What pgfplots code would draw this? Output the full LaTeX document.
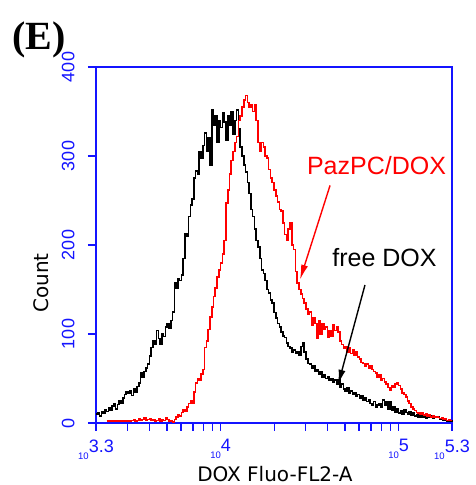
\documentclass[border=0pt]{standalone}
\usepackage{fontspec}
\usepackage{pgfplots}
\pgfplotsset{compat=1.18}
\usetikzlibrary{arrows.meta}
\setmainfont{Liberation Sans}
\newfontfamily\serifE{Liberation Serif}
\newfontfamily\dejavu{DejaVu Sans}
\definecolor{axblue}{RGB}{20,20,255}
\newcommand{\lt}[1]{{\fontsize{9.5}{9.5}\selectfont\raisebox{-7pt}{10}}#1}
\pgfplotstableread{
x y
3.30 10
3.31 12
3.32 8
3.33 13
3.34 11
3.35 15
3.36 13
3.37 17
3.38 14
3.39 19
3.40 22
3.41 16
3.42 21
3.43 25
3.44 22
3.45 28
3.46 32
3.47 35
3.48 33
3.49 36
3.50 31
3.51 38
3.52 35
3.53 41
3.54 45
3.55 56
3.56 52
3.57 58
3.58 62
3.59 66
3.60 75
3.61 85
3.62 92
3.63 88
3.64 104
3.65 95
3.66 88
3.67 100
3.68 97
3.69 108
3.70 112
3.71 106
3.72 115
3.73 125
3.74 157
3.75 152
3.76 162
3.77 160
3.78 166
3.79 185
3.80 213
3.81 210
3.82 232
3.83 245
3.84 252
3.85 275
3.86 283
3.87 280
3.88 305
3.89 298
3.90 312
3.91 326
3.92 305
3.93 320
3.94 290
3.95 352
3.96 335
3.97 345
3.98 315
3.99 340
4.00 332
4.01 348
4.02 338
4.03 318
4.04 345
4.05 335
4.06 350
4.07 325
4.08 340
4.09 352
4.10 330
4.11 310
4.12 300
4.13 290
4.14 282
4.15 270
4.16 258
4.17 240
4.18 232
4.19 218
4.20 205
4.21 198
4.22 185
4.23 172
4.24 168
4.25 160
4.26 150
4.27 146
4.28 138
4.29 135
4.30 124
4.31 118
4.32 112
4.33 108
4.34 102
4.35 98
4.36 96
4.37 90
4.38 86
4.39 84
4.40 80
4.41 82
4.42 78
4.43 80
4.44 76
4.45 86
4.46 90
4.47 80
4.48 72
4.49 67
4.50 66
4.51 62
4.52 64
4.53 58
4.54 60
4.55 55
4.56 57
4.57 52
4.58 54
4.59 50
4.60 52
4.61 48
4.62 50
4.63 46
4.64 48
4.65 44
4.66 48
4.67 40
4.68 44
4.69 38
4.70 36
4.71 40
4.72 34
4.73 36
4.74 32
4.75 34
4.76 30
4.77 32
4.78 28
4.79 30
4.80 26
4.81 28
4.82 24
4.83 26
4.84 22
4.85 20
4.86 24
4.87 18
4.88 20
4.89 22
4.90 18
4.91 26
4.92 20
4.93 24
4.94 16
4.95 24
4.96 14
4.97 18
4.98 12
4.99 16
5.00 11
5.01 14
5.02 10
5.03 15
5.04 12
5.05 10
5.06 13
5.07 9
5.08 11
5.09 8
5.10 9
5.11 7
5.12 8
5.13 6
5.14 7
5.15 5
5.16 7
5.17 6
5.18 8
5.19 5
5.20 7
5.21 6
5.22 7
5.23 4
5.24 5
5.25 3
5.26 4
5.27 2
5.28 3
5.29 2
5.30 3
}\freedox
\pgfplotstableread{
x y
3.36 2
3.37 3
3.38 2
3.39 3
3.40 2
3.41 2
3.42 3
3.43 2
3.44 2
3.45 3
3.46 2
3.47 2
3.48 3
3.49 2
3.50 3
3.51 4
3.52 2
3.53 3
3.54 5
3.55 3
3.56 4
3.57 6
3.58 3
3.59 4
3.60 5
3.61 3
3.62 4
3.63 2
3.64 3
3.65 5
3.66 2
3.67 4
3.68 3
3.69 6
3.70 4
3.71 2
3.72 3
3.73 1
3.74 4
3.75 7
3.76 9
3.77 8
3.78 12
3.79 15
3.80 13
3.81 18
3.82 22
3.83 25
3.84 22
3.85 35
3.86 45
3.87 50
3.88 48
3.89 55
3.90 60
3.91 85
3.92 92
3.93 105
3.94 119
3.95 130
3.96 142
3.97 152
3.98 164
3.99 172
4.00 180
4.01 190
4.02 205
4.03 247
4.04 262
4.05 280
4.06 295
4.07 305
4.08 315
4.09 322
4.10 340
4.11 345
4.12 355
4.13 363
4.14 368
4.15 360
4.16 355
4.17 358
4.18 350
4.19 357
4.20 340
4.21 315
4.22 305
4.23 315
4.24 310
4.25 300
4.26 298
4.27 285
4.28 275
4.29 270
4.30 262
4.31 255
4.32 248
4.33 240
4.34 238
4.35 225
4.36 212
4.37 205
4.38 218
4.39 225
4.40 200
4.41 195
4.42 170
4.43 157
4.44 150
4.45 145
4.46 140
4.47 135
4.48 128
4.49 122
4.50 125
4.51 110
4.52 118
4.53 112
4.54 95
4.55 115
4.56 100
4.57 112
4.58 105
4.59 108
4.60 96
4.61 104
4.62 98
4.63 110
4.64 104
4.65 108
4.66 102
4.67 92
4.68 88
4.69 84
4.70 86
4.71 80
4.72 84
4.73 78
4.74 82
4.75 76
4.76 80
4.77 74
4.78 72
4.79 68
4.80 67
4.81 64
4.82 66
4.83 62
4.84 64
4.85 60
4.86 58
4.87 56
4.88 52
4.89 54
4.90 48
4.91 50
4.92 46
4.93 44
4.94 40
4.95 37
4.96 42
4.97 40
4.98 44
4.99 45
5.00 42
5.01 38
5.02 34
5.03 32
5.04 29
5.05 25
5.06 22
5.07 18
5.08 16
5.09 14
5.10 12
5.11 11
5.12 10
5.13 11
5.14 9
5.15 10
5.16 8
5.17 9
5.18 7
5.19 8
5.20 6
5.21 7
5.22 6
5.23 5
5.24 6
5.25 4
5.26 5
5.27 3
5.28 4
5.29 3
5.30 3
}\pazpc
\begin{document}
\begin{tikzpicture}
\useasboundingbox (0,0) rectangle (475pt,485pt);
\begin{axis}[
  at={(96pt,62pt)}, anchor=south west,
  scale only axis, width=356pt, height=356pt,
  xmin=3.3, xmax=5.3, ymin=0, ymax=400,
  axis line style={axblue, line width=1.3pt},
  every tick/.style={axblue, line width=1.3pt},
  tick align=outside,
  major tick length=8pt, minor tick length=8pt,
  xtick pos=bottom, ytick pos=left,
  xtick={3.3,4,5,5.3},
  xticklabels={\lt{3.3},\lt{4},\lt{5},\lt{5.3}},
  minor xtick={3.4771,3.6021,3.6990,3.7782,3.8451,3.9031,3.9542,4.3010,4.4771,4.6021,4.6990,4.7782,4.8451,4.9031,4.9542},
  ytick={0,100,200,300,400},
  yticklabels={0,100,200,300,400},
  ticklabel style={font=\fontsize{18}{18}\selectfont, text=axblue},
  yticklabel style={rotate=90, anchor=south},
  xticklabel style={anchor=north},
  yticklabel shift=10pt,
  xticklabel shift=5pt,
  clip=false,
]
\addplot[const plot, black, line width=1.6pt] table[x=x,y=y] {\freedox};
\addplot[const plot, red, line width=1.6pt] table[x=x,y=y] {\pazpc};
\node[red, anchor=base, font=\fontsize{25}{25}\selectfont] at (axis cs:4.876,279) {PazPC/DOX};
\node[black, anchor=base, font=\fontsize{25}{25}\selectfont] at (axis cs:4.921,176) {free DOX};
\draw[red, line width=1.4pt, -{Latex[length=15pt,width=7pt]}] (axis cs:4.615,267) -- (axis cs:4.446,161);
\draw[black, line width=1.4pt, -{Latex[length=15pt,width=7pt]}] (axis cs:4.811,155) -- (axis cs:4.660,43);
\end{axis}
\node[anchor=base, inner sep=0pt, font=\dejavu\fontsize{20}{20}\selectfont] at (275pt,4pt) {DOX Fluo-FL2-A};
\node[rotate=90, font=\dejavu\fontsize{20}{20}\selectfont] at (41.5pt,202pt) {Count};
\node[anchor=base west, inner sep=0pt, font=\serifE\bfseries\fontsize{40}{40}\selectfont] at (12pt,435pt) {(E)};
\end{tikzpicture}
\end{document}
